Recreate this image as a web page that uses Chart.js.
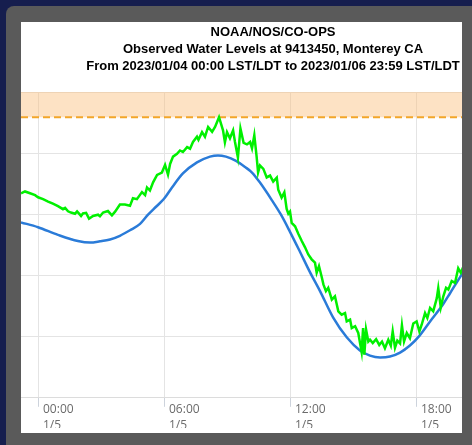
<!DOCTYPE html>
<html>
<head>
<meta charset="utf-8">
<script src="https://cdn.jsdelivr.net/npm/chart.js@4.4.0/dist/chart.umd.min.js"></script>
<style>
  html, body { margin: 0; padding: 0; width: 472px; height: 445px; overflow: hidden; background: #161e4e; }
  #frame { position: absolute; left: 6px; top: 6px; width: 466px; height: 439px; background: #5a5a5a; border-top-left-radius: 8px; }
  #panel { position: absolute; left: 21px; top: 22px; width: 441px; height: 411px; background: #fff; overflow: hidden; }
  #panel canvas { position: absolute; left: 0; top: 0; }
</style>
</head>
<body>
<div id="frame"></div>
<div id="panel"><canvas id="tideChart" width="504" height="411"></canvas></div>
<script>
const titleLines = [
  "NOAA/NOS/CO-OPS",
  "Observed Water Levels at 9413450, Monterey CA",
  "From 2023/01/04 00:00 LST/LDT to 2023/01/06 23:59 LST/LDT",
];

// hours from 1/5 00:00, levels in ft
const xMin = -0.81;
const xMax = 23.19;
const yMin = -2;
const yMax = 8;
const yStep = 2;
const floodLevel = 7.18;

const tickHours = [0, 6, 12, 18];
const tickTimes = ["00:00", "06:00", "12:00", "18:00"];
const tickDates = ["1/5", "1/5", "1/5", "1/5"];

const predHours = [
  -0.81, 0, 0.95, 1.9, 2.48, 2.95, 3.43, 3.9, 4.38, 4.86, 5.24, 5.62, 6.0, 6.38,
  6.9, 7.57, 8.19, 8.57, 8.95, 9.43, 9.86, 10.19, 10.57, 11.14, 11.57, 12.0,
  12.48, 12.95, 13.43, 14.05, 14.71, 15.33, 15.81, 16.29, 16.76, 17.24, 17.71,
  18.14, 18.67, 19.29, 19.62, 20.1, 20.38,
];
const predLevels = [
  3.74, 3.58, 3.33, 3.13, 3.08, 3.12, 3.18, 3.3, 3.48, 3.69, 3.99, 4.25, 4.51, 4.88,
  5.34, 5.7, 5.89, 5.93, 5.89, 5.75, 5.55, 5.37, 5.04, 4.46, 3.99, 3.43,
  2.77, 2.11, 1.49, 0.63, -0.03, -0.45, -0.62, -0.68, -0.65, -0.52, -0.29,
  0.01, 0.5, 1.06, 1.42, 1.95, 2.24,
];

const obsHours = [
  -0.81, -0.62, -0.38, -0.14, 0, 0.24, 0.48, 0.71, 0.95, 1.19,
  1.29, 1.43, 1.57, 1.76, 1.86, 2.05, 2.14, 2.29, 2.43, 2.62,
  2.86, 2.95, 3.1, 3.33, 3.52, 3.67, 3.9, 4.14, 4.38, 4.52,
  4.71, 4.95, 5.1, 5.19, 5.33, 5.48, 5.67, 5.9, 6.05, 6.19,
  6.29, 6.43, 6.62, 6.76, 6.9, 7.1, 7.24, 7.38, 7.57, 7.64,
  7.81, 7.95, 8.1, 8.29, 8.43, 8.62, 8.81, 8.9, 9.0, 9.14,
  9.29, 9.38, 9.52, 9.64, 9.79, 9.95, 10.1, 10.19, 10.3, 10.41,
  10.48, 10.57, 10.73, 10.89, 11.05, 11.2, 11.37, 11.44, 11.6, 11.73,
  11.84, 11.92, 12.0, 12.08, 12.24, 12.4, 12.56, 12.71, 12.87, 13.03,
  13.19, 13.27, 13.38, 13.51, 13.59, 13.71, 13.82, 13.99, 14.14, 14.3,
  14.46, 14.62, 14.7, 14.86, 14.94, 15.1, 15.25, 15.41, 15.48, 15.54,
  15.62, 15.73, 15.81, 15.94, 16.1, 16.25, 16.38, 16.52, 16.68, 16.8,
  16.89, 17.0, 17.11, 17.24, 17.33, 17.43, 17.56, 17.71, 17.87, 18.03,
  18.16, 18.27, 18.43, 18.54, 18.67, 18.82, 18.99, 19.06, 19.18, 19.3,
  19.43, 19.54, 19.7, 19.86, 20.01, 20.13, 20.33,
];
const obsLevels = [
  4.69, 4.75, 4.69, 4.63, 4.56, 4.5, 4.42, 4.35, 4.27, 4.17,
  4.21, 4.1, 4.06, 4.02, 4.1, 3.95, 4.03, 4.05, 3.86, 3.95,
  3.99, 3.94, 4.06, 4.11, 3.97, 4.09, 4.32, 4.32, 4.28, 4.53,
  4.5, 4.73, 4.63, 4.88, 4.78, 5.05, 5.29, 5.37, 5.62, 5.3,
  5.65, 5.89, 5.98, 6.09, 6.04, 6.2, 6.15, 6.37, 6.54, 6.44,
  6.69, 6.54, 6.86, 6.7, 6.86, 7.18, 6.75, 6.36, 6.69, 6.49,
  6.75, 6.37, 5.86, 6.81, 6.34, 6.29, 6.37, 6.16, 6.59, 5.89,
  5.37, 5.6, 5.49, 5.21, 5.27, 5.07, 5.2, 4.81, 4.55, 4.72,
  4.18, 4.02, 4.09, 3.72, 3.61, 3.36, 3.13, 2.93, 2.69, 2.53,
  2.42, 2.09, 2.31, 1.95, 1.71, 1.49, 1.6, 1.21, 1.32, 0.83,
  0.72, 0.77, 0.5, 0.56, 0.28, 0.34, 0.12, -0.5, 0.28, -0.59,
  0.24, -0.16, -0.1, -0.21, -0.08, -0.27, -0.16, -0.38, -0.1, -0.29,
  0.17, -0.36, -0.13, -0.22, 0.37, -0.16, 0.12, -0.05, 0.43, 0.5,
  0.17, 0.39, 0.77, 0.61, 0.94, 0.83, 1.26, 1.59, 0.96, 1.32,
  1.6, 1.54, 1.82, 1.76, 2.24, 2.09, 2.41,
];

const toPoints = (xs, ys) => xs.map((x, i) => ({ x: x, y: ys[i] }));

const tideChart = document.getElementById("tideChart");

new Chart(tideChart, {
  type: "line",
  data: {
    datasets: [
      {
        label: "Observed",
        data: toPoints(obsHours, obsLevels),
        borderColor: "#00f000",
        borderWidth: 2.5,
        pointRadius: 0,
        tension: 0,
        order: 0,
      },
      {
        label: "Predicted",
        data: toPoints(predHours, predLevels),
        borderColor: "#2a7bd8",
        borderWidth: 2.5,
        pointRadius: 0,
        cubicInterpolationMode: "monotone",
        order: 1,
      },
      {
        label: "Threshold",
        data: [
          { x: xMin, y: floodLevel },
          { x: xMax, y: floodLevel },
        ],
        borderColor: "#f2a62a",
        borderWidth: 2,
        borderDash: [7, 4],
        backgroundColor: "rgba(250, 190, 125, 0.45)",
        fill: "end",
        pointRadius: 0,
        order: 2,
      },
    ],
  },
  options: {
    responsive: false,
    animation: false,
    layout: { padding: { left: 0, right: 0, top: 0, bottom: 5 } },
    plugins: {
      legend: { display: false },
      tooltip: { enabled: false },
      title: {
        display: true,
        text: titleLines,
        color: "#000",
        font: { family: "'Liberation Sans', Arial, sans-serif", size: 13, weight: "bold", lineHeight: 1.285 },
        padding: { top: 2.5, bottom: 17.5 },
      },
    },
    scales: {
      x: {
        type: "linear",
        min: xMin,
        max: xMax,
        afterBuildTicks: (scale) => {
          scale.ticks = tickHours.map((v) => ({ value: v }));
        },
        grid: { color: "#e4e4e4", tickColor: "#cdd3dc", tickLength: 9 },
        border: { color: "#dcdcdc" },
        ticks: {
          align: "start",
          labelOffset: 5,
          padding: -5,
          maxRotation: 0,
          autoSkip: false,
          color: "#6b6b6b",
          font: { family: "'Open Sans', sans-serif", size: 12, lineHeight: 1.3 },
          callback: function (value) {
            const i = tickHours.indexOf(value);
            return [tickTimes[i], tickDates[i]];
          },
        },
      },
      y: {
        position: "right",
        min: yMin,
        max: yMax,
        ticks: { stepSize: yStep, display: false },
        grid: { color: "#e4e4e4", drawTicks: false },
        border: { display: false },
        afterFit: (scale) => {
          scale.width = 0;
        },
      },
    },
  },
});
</script>
</body>
</html>
